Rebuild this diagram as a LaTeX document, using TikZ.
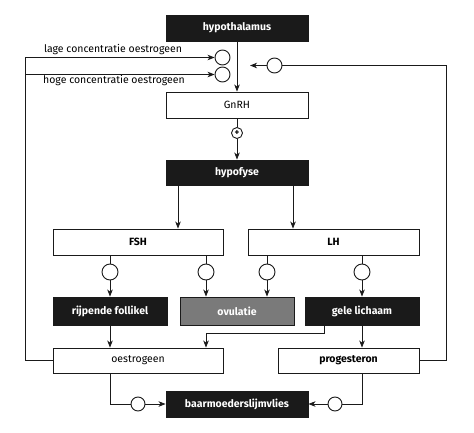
\documentclass[tikz,border=0pt]{standalone}
\usepackage{fontspec}
\setmainfont{Fira Sans}
\usepackage{xcolor}
\usetikzlibrary{shapes,arrows,arrows.meta,positioning,calc}

\definecolor{darkbox}{HTML}{1A1A1A}
\definecolor{greybox}{HTML}{7A7A7A}

\begin{document}
\begin{tikzpicture}[x=1pt, y=-1pt, font=\fontsize{10.5}{12}\selectfont,
    block/.style={rectangle, draw=darkbox, line width=0.9pt, fill=white, inner sep=0pt, minimum height=26pt},
    dark/.style={block, fill=darkbox, text=white, font=\fontsize{10.5}{12}\selectfont\bfseries},
    grey/.style={block, fill=greybox, text=white, font=\fontsize{10.5}{12}\selectfont\bfseries},
    ring/.style={circle, draw=darkbox, line width=0.9pt, fill=white, inner sep=0pt, minimum size=15pt},
    line/.style={draw=darkbox, line width=0.9pt},
    arrow/.style={line, -{Stealth[length=7pt, width=5.5pt, inset=2pt]}}]

    \useasboundingbox (0,0) rectangle (474,433);

    % Hypothalamus
    \node[dark, minimum width=142pt] (hypoth) at (237,28) {hypothalamus};
    \node[ring] (lage) at (222.5,57.5) {};
    \node[ring] (hoge) at (222.5,74.5) {};
    \node[ring] (terug) at (274.5,65.5) {};
    \node (lagetxt) at (113,50) {lage concentratie oestrogeen};
    \node (hogetxt) at (114,81) {hoge concentratie oestrogeen};

    % GnRH
    \node[block, minimum width=142pt] (gnrh) at (237,105) {GnRH};
    \node[ring, minimum size=11pt, font=\fontsize{9}{9}\selectfont\bfseries] (plus) at (237,133) {+};

    % Hypofyse
    \node[dark, minimum width=142pt, minimum height=25pt] (hypof) at (237,172.5) {hypofyse};

    % FSH en LH
    \node[block, minimum width=170pt, font=\fontsize{10.5}{12}\selectfont\bfseries] (fsh) at (138,242) {FSH};
    \node[block, minimum width=171pt, font=\fontsize{10.5}{12}\selectfont\bfseries] (lh) at (333.5,242) {LH};
    \node[ring, minimum size=16pt] (c1) at (110,272) {};
    \node[ring, minimum size=16pt] (c2) at (206,272) {};
    \node[ring, minimum size=16pt] (c3) at (267,272) {};
    \node[ring, minimum size=16pt] (c4) at (362,272) {};

    % Eierstok
    \node[dark, minimum width=114pt, minimum height=28pt] (follikel) at (110,311) {rijpende follikel};
    \node[grey, minimum width=114pt, minimum height=28pt] (ovulatie) at (237,311) {ovulatie};
    \node[dark, minimum width=114pt, minimum height=28pt] (geel) at (362,311) {gele lichaam};

    % Hormonen
    \node[block, minimum width=170pt, minimum height=25pt] (oestro) at (138,360.5) {oestrogeen};
    \node[block, minimum width=141pt, minimum height=25pt, font=\fontsize{10.5}{12}\selectfont\bfseries] (proges) at (348.5,360.5) {progesteron};

    % Baarmoeder
    \node[dark, minimum width=142pt] (baar) at (237,404) {baarmoederslijmvlies};
    \node[ring, minimum size=14pt] (bl) at (138,404) {};
    \node[ring, minimum size=14pt] (br) at (335,404) {};

    % Hulppunten
    \coordinate (links) at (25,57.5);
    \coordinate (links2) at (25,74.5);
    \coordinate (rechts) at (446,65.5);
    \coordinate (terugpunt) at (250,65.5);

    % Arrows
    \draw[arrow] (hypoth) -- (gnrh);
    \draw[arrow] (oestro.west) -| (links) -- (lage.west);
    \draw[arrow] (links2) -- (hoge.west);
    \draw[line] (proges.east) -| (rechts) -- (terug.east);
    \draw[arrow] (terug.west) -- (terugpunt);
    \draw[line] (gnrh) -- (plus);
    \draw[arrow] (plus) -- (hypof);
    \draw[arrow] ($(hypof.south)+(-59,0)$) -- ($(fsh.north)+(40,0)$);
    \draw[arrow] ($(hypof.south)+(56,0)$) -- ($(lh.north)+(-40.5,0)$);
    \draw[line] (fsh.south -| c1) -- (c1);
    \draw[line] (fsh.south -| c2) -- (c2);
    \draw[line] (lh.south -| c3) -- (c3);
    \draw[line] (lh.south -| c4) -- (c4);
    \draw[arrow] (c1) -- (follikel);
    \draw[arrow] (c2) -- (c2 |- ovulatie.north);
    \draw[arrow] (c3) -- (c3 |- ovulatie.north);
    \draw[arrow] (c4) -- (geel);
    \draw[arrow] (follikel) -- (follikel.south |- oestro.north);
    \draw[arrow] ($(geel.south)+(-38,0)$) -- ++(0,8) -| (c2 |- oestro.north);
    \draw[arrow] (geel) -- (geel.south |- proges.north);
    \draw[line] (oestro.south -| c1) |- (bl.west);
    \draw[arrow] (bl) -- (baar);
    \draw[line] (proges.south -| c4) |- (br.east);
    \draw[arrow] (br) -- (baar);

\end{tikzpicture}
\end{document}
